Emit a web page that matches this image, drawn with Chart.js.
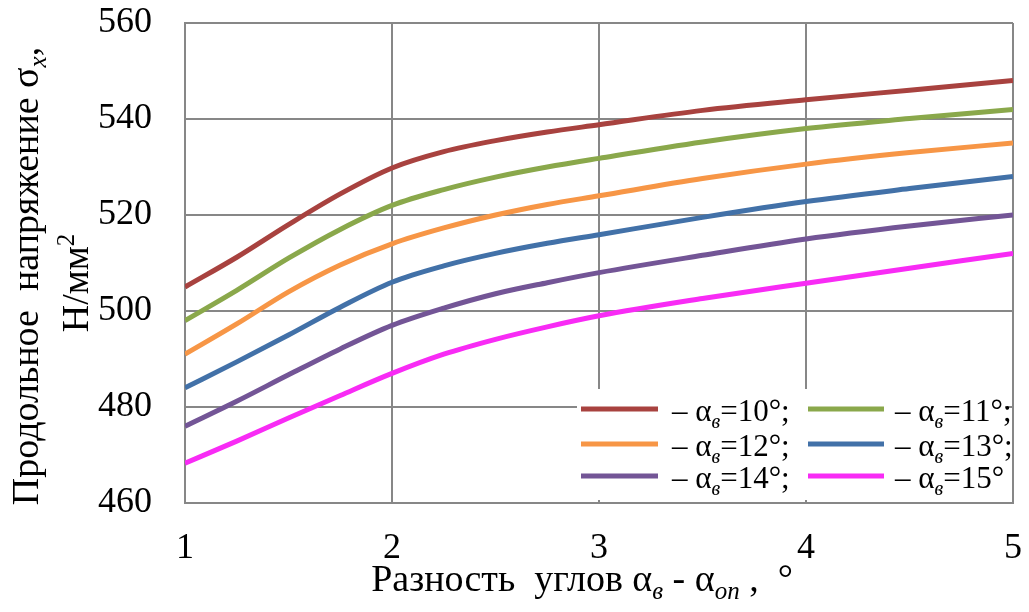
<!DOCTYPE html>
<html>
<head>
<meta charset="utf-8">
<script src="https://cdn.jsdelivr.net/npm/chart.js@4/dist/chart.umd.min.js"></script>
<style>
  html, body { margin: 0; padding: 0; background: #ffffff; }
  canvas { display: block; }
</style>
</head>
<body>
<canvas id="chart" width="1029" height="612"></canvas>
<script>
// Angle difference αв − αоп, degrees
const angleDiff = [1, 1.25, 1.5, 1.75, 2, 2.25, 2.5, 2.75, 3, 3.5, 4, 4.5, 5];

// Longitudinal stress σx, N/mm², one list per blade angle αв
const stressA10 = [505, 511.2, 518, 524.4, 529.8, 533.2, 535.5, 537.3, 538.8, 541.8, 544, 546, 548];
const stressA11 = [498, 504.3, 511, 517, 522, 525.3, 527.9, 530, 531.8, 535.2, 538, 540.1, 542];
const stressA12 = [491, 497.3, 504, 509.6, 514, 517.3, 520, 522.2, 524, 527.6, 530.6, 533, 535];
const stressA13 = [484, 489.4, 495, 500.8, 506, 509.4, 512, 514.1, 515.9, 519.5, 522.8, 525.5, 528];
const stressA14 = [476, 481.2, 486.7, 492.1, 497, 500.6, 503.6, 505.9, 508, 511.6, 515, 517.7, 520];
const stressA15 = [468.3, 472.9, 477.7, 482.4, 487, 491, 494.1, 496.7, 499, 502.6, 505.8, 508.9, 512];

const bladeAngles = [10, 11, 12, 13, 14, 15];
const seriesColors = ['#A8423F', '#8AA84B', '#F79646', '#4271A8', '#735596', '#F82BF5'];

const xTickValues = [1, 2, 3, 4, 5];
const yTickValues = [460, 480, 500, 520, 540, 560];

const SERIF = '"Liberation Serif", "Times New Roman", serif';
const GRID = '#878787';

const stressSeries = [stressA10, stressA11, stressA12, stressA13, stressA14, stressA15];

const datasets = stressSeries.map((vals, i) => ({
  label: 'αв=' + bladeAngles[i] + '°',
  data: angleDiff.map((x, j) => ({ x: x, y: vals[j] })),
  borderColor: seriesColors[i],
  backgroundColor: seriesColors[i],
  borderWidth: 5,
  pointRadius: 0,
  cubicInterpolationMode: 'monotone',
  fill: false
}));

// Draw a run of text pieces; pieces may be subscripts / superscripts.
function drawRich(ctx, parts, x, y, size) {
  let cx = x;
  for (const p of parts) {
    const small = p.sub || p.sup;
    const fs = small ? Math.round(size * 0.66) : size;
    ctx.font = (p.italic ? 'italic ' : '') + fs + 'px ' + SERIF;
    const dy = p.sub ? size * 0.22 : (p.sup ? -size * 0.38 : 0);
    ctx.fillText(p.t, cx, y + dy);
    cx += ctx.measureText(p.t).width;
  }
  return cx - x;
}
function richWidth(ctx, parts, size) {
  let w = 0;
  for (const p of parts) {
    const small = p.sub || p.sup;
    const fs = small ? Math.round(size * 0.66) : size;
    ctx.font = (p.italic ? 'italic ' : '') + fs + 'px ' + SERIF;
    w += ctx.measureText(p.t).width;
  }
  return w;
}

const xTitleParts = [
  { t: 'Разность  углов α' }, { t: 'в', sub: true, italic: true },
  { t: ' - α' }, { t: 'оп', sub: true, italic: true }, { t: ' ,  °' }
];
const yTitleLine1 = [
  { t: 'Продольное  напряжение σ' }, { t: 'x', sub: true, italic: true }, { t: ',' }
];
const yTitleLine2 = [{ t: 'Н/мм' }, { t: '2', sup: true }];

const titlesPlugin = {
  id: 'axisTitles',
  afterDraw(chart) {
    const ctx = chart.ctx;
    const size = 38;
    ctx.save();
    ctx.fillStyle = '#000';
    ctx.textBaseline = 'alphabetic';
    ctx.textAlign = 'left';
    // horizontal axis title
    const wx = richWidth(ctx, xTitleParts, size);
    drawRich(ctx, xTitleParts, 582 - wx / 2, 591, size);
    // vertical axis title, two rotated lines
    const w1 = richWidth(ctx, yTitleLine1, size);
    ctx.save();
    ctx.translate(38, 276);
    ctx.rotate(-Math.PI / 2);
    drawRich(ctx, yTitleLine1, -w1 / 2, 0, size);
    ctx.restore();
    const w2 = richWidth(ctx, yTitleLine2, size);
    ctx.save();
    ctx.translate(88, 283);
    ctx.rotate(-Math.PI / 2);
    drawRich(ctx, yTitleLine2, -w2 / 2, 0, size);
    ctx.restore();
    ctx.restore();
  }
};

// Legend in the lower right corner of the plot, two columns by three rows
const legendPlugin = {
  id: 'cornerLegend',
  afterDatasetsDraw(chart) {
    const ctx = chart.ctx;
    const size = 31;
    const colX = [{ l0: 581, l1: 658, tx: 672 }, { l0: 808, l1: 884, tx: 895 }];
    const rowY = [409, 444, 476];
    ctx.save();
    ctx.fillStyle = '#ffffff';
    ctx.fillRect(577, 389, 428, 111);
    chart.data.datasets.forEach((ds, i) => {
      const c = colX[i % 2];
      const y = rowY[Math.floor(i / 2)];
      ctx.strokeStyle = ds.borderColor;
      ctx.lineWidth = 5;
      ctx.beginPath();
      ctx.moveTo(c.l0, y);
      ctx.lineTo(c.l1, y);
      ctx.stroke();
      ctx.fillStyle = '#000';
      ctx.textBaseline = 'alphabetic';
      ctx.textAlign = 'left';
      const last = i === chart.data.datasets.length - 1;
      drawRich(ctx, [
        { t: '– α' }, { t: 'в', sub: true, italic: true },
        { t: '=' + bladeAngles[i] + '°' + (last ? '' : ';') }
      ], c.tx, y + 12, size);
    });
    ctx.restore();
  }
};

new Chart(document.getElementById('chart'), {
  type: 'line',
  data: { datasets: datasets },
  options: {
    responsive: false,
    animation: false,
    devicePixelRatio: 1,
    layout: { padding: { top: 23, right: 16, left: 0, bottom: 0 } },
    plugins: { legend: { display: false }, tooltip: { enabled: false } },
    scales: {
      x: {
        type: 'linear',
        min: 1, max: 5,
        afterBuildTicks(scale) { scale.ticks = xTickValues.map(v => ({ value: v })); },
        afterFit(scale) {
          scale.height = 109;
          scale.paddingLeft = 0; scale.paddingRight = 0;
        },
        grid: { color: GRID, lineWidth: 2, drawTicks: false },
        border: { color: GRID, width: 2 },
        ticks: { color: '#000', padding: 24, font: { family: SERIF, size: 36 } }
      },
      y: {
        min: 460, max: 560,
        afterBuildTicks(scale) { scale.ticks = yTickValues.map(v => ({ value: v })); },
        afterFit(scale) {
          scale.width = 185;
          scale.paddingTop = 0; scale.paddingBottom = 0;
        },
        grid: { color: GRID, lineWidth: 2, drawTicks: false },
        border: { color: GRID, width: 2 },
        ticks: { color: '#000', padding: 33, font: { family: SERIF, size: 36 } }
      }
    }
  },
  plugins: [legendPlugin, titlesPlugin]
});
</script>
</body>
</html>
